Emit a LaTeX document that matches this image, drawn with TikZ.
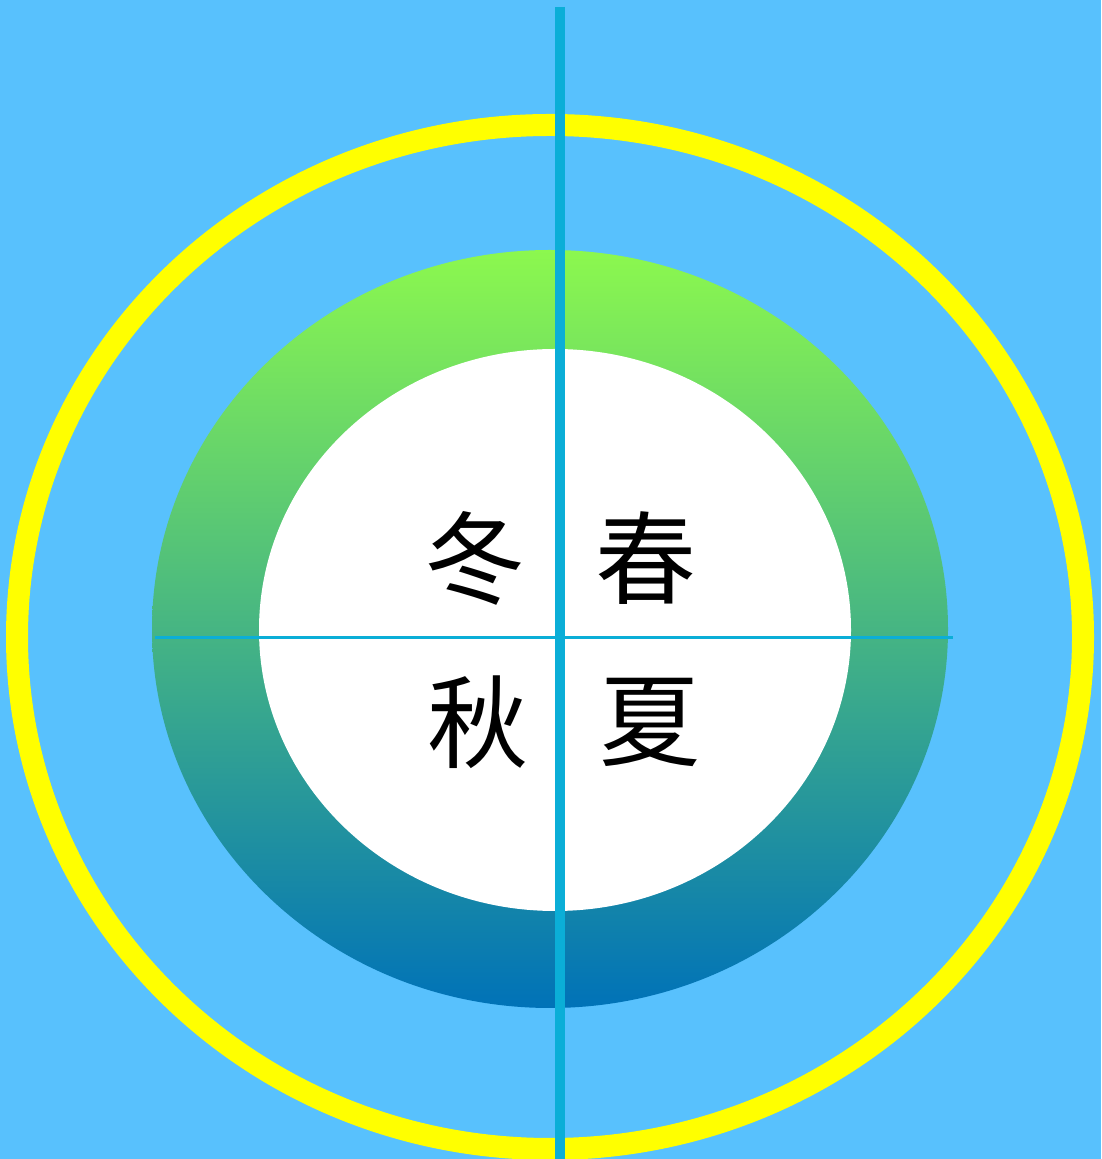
\documentclass[tikz,border=0pt]{standalone}
\usepackage{fontspec}
\newfontfamily\cjk{Noto Sans CJK SC}
\definecolor{bgblue}{HTML}{58C1FD}
\definecolor{ringyellow}{HTML}{FFFF00}
\definecolor{axisblue}{HTML}{0BAED7}
\definecolor{gtop}{HTML}{8CF84E}
\definecolor{gmid}{HTML}{4DC07D}
\definecolor{gbot}{HTML}{0072B8}
\tikzset{
  season/.style={font=\cjk\fontsize{101}{101}\selectfont, text=black, inner sep=0pt},
  axis/.style={draw=axisblue}
}
\begin{document}
\begin{tikzpicture}[x=1pt,y=1pt]
\useasboundingbox (0,0) rectangle (1101,1159);
\fill[bgblue] (0,0) rectangle (1101,1159);
% yellow ring
\draw[ringyellow, line width=22pt] (550,522) ellipse [x radius=533, y radius=512];
% gradient disc
\shade[top color=gtop, middle color=gmid, bottom color=gbot] (550,530) ellipse [x radius=398, y radius=379];
% white centre
\fill[white] (555,529) ellipse [x radius=296, y radius=281];
% axes
\coordinate (hl) at (155,521);
\coordinate (hr) at (953,521);
\coordinate (vt) at (560,1152);
\coordinate (vb) at (560,-5);
\draw[axis, line width=3pt] (hl) -- (hr);
\draw[axis, line width=10pt] (vt) -- (vb);
% seasons
\node[season] (winter) at (475,601) {冬};
\node[season] (spring) at (646,601) {春};
\node[season] (autumn) at (478,437) {秋};
\node[season] (summer) at (650,437) {夏};
\end{tikzpicture}
\end{document}
